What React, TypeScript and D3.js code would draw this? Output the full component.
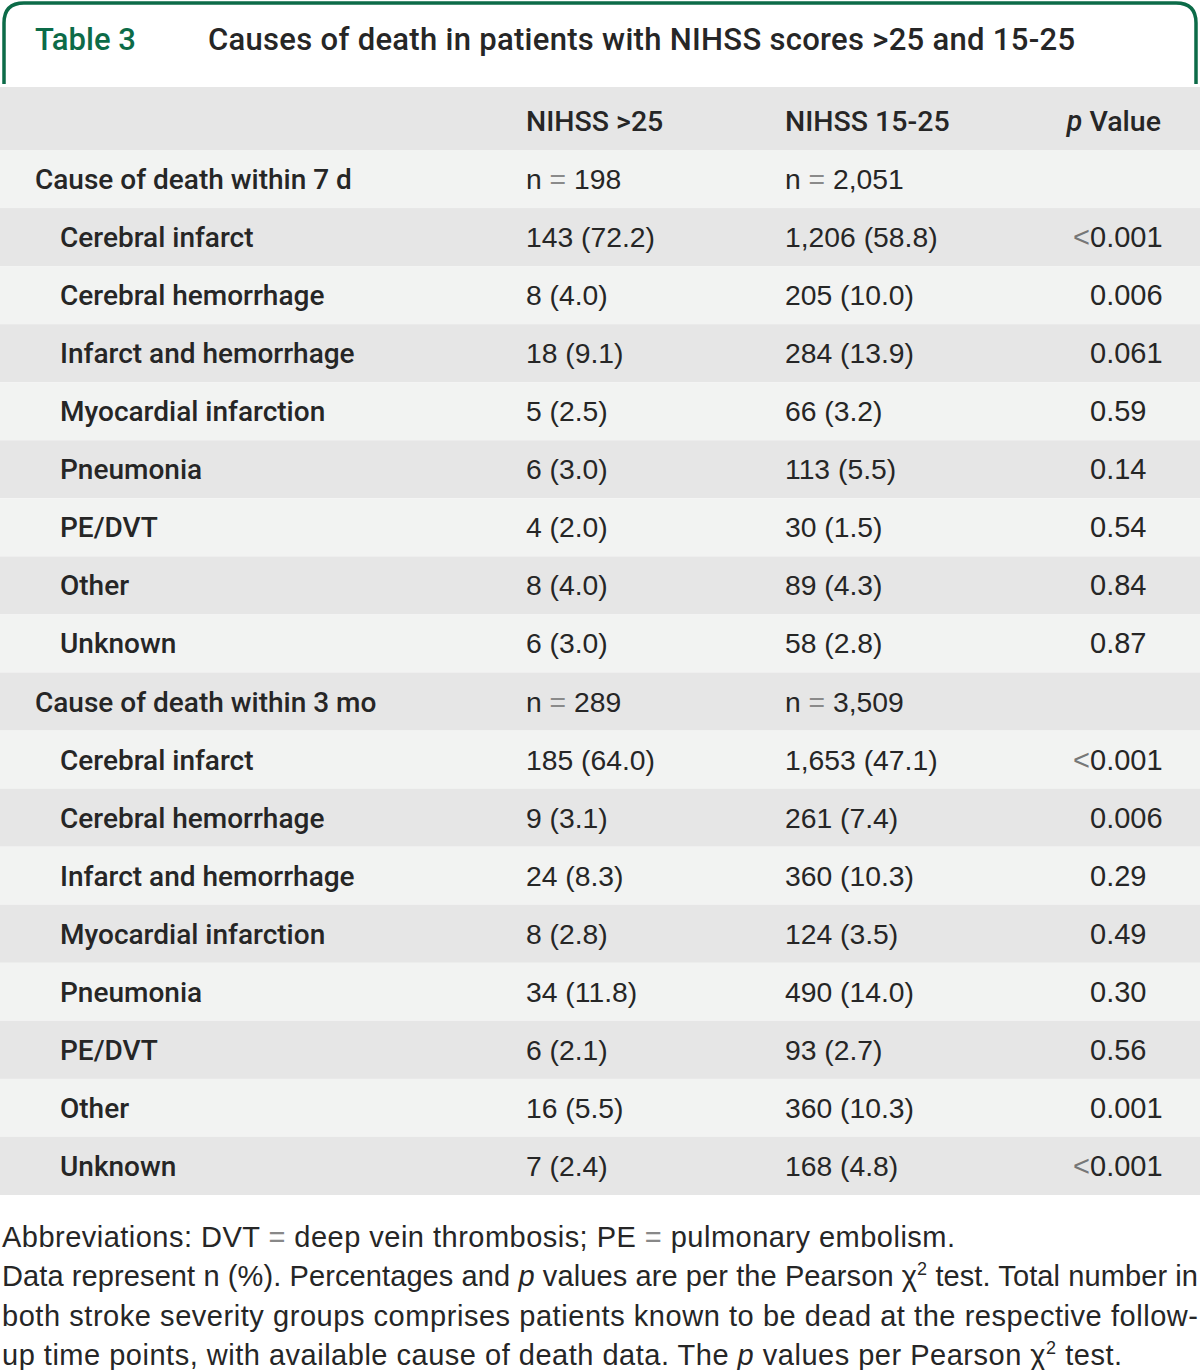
import React, { useEffect, useRef } from 'react';
import * as d3 from 'd3';

const columns = ['NIHSS >25', 'NIHSS 15-25'];
const sections = ['Cause of death within 7 d', 'Cause of death within 3 mo'];
const sectionN = [['198', '2,051'], ['289', '3,509']];
const causes = ['Cerebral infarct', 'Cerebral hemorrhage', 'Infarct and hemorrhage', 'Myocardial infarction', 'Pneumonia', 'PE/DVT', 'Other', 'Unknown'];

const high7d = ['143 (72.2)', '8 (4.0)', '18 (9.1)', '5 (2.5)', '6 (3.0)', '4 (2.0)', '8 (4.0)', '6 (3.0)'];
const mid7d = ['1,206 (58.8)', '205 (10.0)', '284 (13.9)', '66 (3.2)', '113 (5.5)', '30 (1.5)', '89 (4.3)', '58 (2.8)'];
const p7d = ['<0.001', '0.006', '0.061', '0.59', '0.14', '0.54', '0.84', '0.87'];

const high3m = ['185 (64.0)', '9 (3.1)', '24 (8.3)', '8 (2.8)', '34 (11.8)', '6 (2.1)', '16 (5.5)', '7 (2.4)'];
const mid3m = ['1,653 (47.1)', '261 (7.4)', '360 (10.3)', '124 (3.5)', '490 (14.0)', '93 (2.7)', '360 (10.3)', '168 (4.8)'];
const p3m = ['<0.001', '0.006', '0.29', '0.49', '0.30', '0.56', '0.001', '<0.001'];

const GREEN = '#0c6b48';
const INK = '#262626';
const LABEL_FONT = 'Roboto, "Liberation Sans", sans-serif';
const NUM_FONT = '"Liberation Sans", Arial, sans-serif';

export default function App() {
  const svgRef = useRef<SVGSVGElement>(null);
  const width = 1200;
  const height = 1370;

  useEffect(() => {
    const svg = d3.select(svgRef.current);
    svg.selectAll('*').remove();

    // build rows from the arrays
    type Row = { kind: 'section' | 'item'; label: string; a: string; b: string; p: string };
    const rows: Row[] = [];
    const blocks = [[high7d, mid7d, p7d], [high3m, mid3m, p3m]];
    sections.forEach((s, si) => {
      rows.push({ kind: 'section', label: s, a: 'n = ' + sectionN[si][0], b: 'n = ' + sectionN[si][1], p: '' });
      causes.forEach((c, i) => {
        rows.push({ kind: 'item', label: c, a: blocks[si][0][i], b: blocks[si][1][i], p: blocks[si][2][i] });
      });
    });

    const y = d3.scaleBand<number>()
      .domain(d3.range(rows.length))
      .range([150, 1195]);

    const colX = { label: 35, indent: 60, a: 526, b: 785, p: 1090 };

    // title frame with rounded top corners
    const r = 20;
    svg.append('path')
      .attr('d', `M4,84 L4,${3 + r} Q4,3 ${4 + r},3 L${1196 - r},3 Q1196,3 1196,${3 + r} L1196,84`)
      .attr('fill', 'none')
      .attr('stroke', GREEN)
      .attr('stroke-width', 3.5);

    svg.append('text')
      .attr('x', 35).attr('y', 50)
      .attr('font-family', LABEL_FONT).attr('font-weight', 500)
      .attr('font-size', 31).attr('fill', GREEN)
      .text('Table 3');

    svg.append('text')
      .attr('x', 208).attr('y', 50)
      .attr('font-family', LABEL_FONT).attr('font-weight', 500)
      .attr('font-size', 31).attr('fill', INK)
      .attr('textLength', 867).attr('lengthAdjust', 'spacing')
      .text('Causes of death in patients with NIHSS scores >25 and 15-25');

    // header row
    svg.append('rect')
      .attr('x', 0).attr('y', 87).attr('width', width).attr('height', 63)
      .attr('fill', '#e6e6e6');

    const header = svg.append('g')
      .attr('font-family', LABEL_FONT).attr('font-weight', 500)
      .attr('font-size', 28.5).attr('fill', INK);
    header.append('text').attr('x', colX.a).attr('y', 131).text(columns[0]);
    header.append('text').attr('x', colX.b).attr('y', 131).text(columns[1]);
    const pv = header.append('text').attr('x', 1161).attr('y', 131).attr('text-anchor', 'end');
    pv.append('tspan').attr('font-style', 'italic').text('p');
    pv.append('tspan').text(' Value');

    // body rows
    const rowG = svg.append('g')
      .selectAll('g')
      .data(rows)
      .enter()
      .append('g')
      .attr('transform', (d, i) => `translate(0, ${y(i)})`);

    rowG.append('rect')
      .attr('width', width)
      .attr('height', y.bandwidth())
      .attr('fill', (d, i) => (i % 2 === 0 ? '#f2f3f2' : '#e6e6e6'));

    const base = y.bandwidth() / 2 + 10;

    rowG.append('text')
      .attr('x', d => (d.kind === 'section' ? colX.label : colX.indent))
      .attr('y', base)
      .attr('font-family', LABEL_FONT).attr('font-weight', 500)
      .attr('font-size', 28).attr('fill', INK)
      .text(d => d.label);

    const numText = (sel: any, x: number, key: 'a' | 'b') => {
      const t = sel.append('text')
        .attr('x', x).attr('y', base)
        .attr('font-family', NUM_FONT).attr('font-size', 28.3).attr('fill', INK);
      t.each(function (this: SVGTextElement, d: Row) {
        const el = d3.select(this);
        const v = d[key];
        if (v.startsWith('n = ')) {
          el.append('tspan').text('n ');
          el.append('tspan').attr('fill', '#8a8a8a').text('=');
          el.append('tspan').text(' ' + v.slice(4));
        } else {
          el.text(v);
        }
      });
    };
    numText(rowG, colX.a, 'a');
    numText(rowG, colX.b, 'b');

    const pG = rowG.filter(d => d.p !== '');
    pG.append('text')
      .attr('x', colX.p).attr('y', base)
      .attr('font-family', NUM_FONT).attr('font-size', 29).attr('fill', INK)
      .text(d => d.p.replace('<', ''));
    pG.filter(d => d.p.startsWith('<'))
      .append('text')
      .attr('x', colX.p).attr('y', base)
      .attr('text-anchor', 'end')
      .attr('font-family', NUM_FONT).attr('font-size', 29).attr('fill', '#777')
      .text('<');

    // footnotes
    const foot = svg.append('g')
      .attr('font-family', NUM_FONT).attr('font-size', 29).attr('fill', INK);
    const l1 = foot.append('text').attr('x', 2).attr('y', 1247)
      .attr('textLength', 953).attr('lengthAdjust', 'spacing');
    l1.append('tspan').text('Abbreviations: DVT ');
    l1.append('tspan').attr('fill', '#888').text('=');
    l1.append('tspan').text(' deep vein thrombosis; PE ');
    l1.append('tspan').attr('fill', '#888').text('=');
    l1.append('tspan').text(' pulmonary embolism.');

    const l2 = foot.append('text').attr('x', 2).attr('y', 1286)
      .attr('textLength', 1196).attr('lengthAdjust', 'spacing');
    l2.append('tspan').text('Data represent n (%). Percentages and ');
    l2.append('tspan').attr('font-style', 'italic').text('p');
    l2.append('tspan').text(' values are per the Pearson χ');
    l2.append('tspan').attr('font-size', 18).attr('dy', -11).text('2');
    l2.append('tspan').attr('dy', 11).text(' test. Total number in');

    foot.append('text').attr('x', 2).attr('y', 1326)
      .attr('textLength', 1196).attr('lengthAdjust', 'spacing')
      .text('both stroke severity groups comprises patients known to be dead at the respective follow-');

    const l4 = foot.append('text').attr('x', 2).attr('y', 1365)
      .attr('textLength', 1120).attr('lengthAdjust', 'spacing');
    l4.append('tspan').text('up time points, with available cause of death data. The ');
    l4.append('tspan').attr('font-style', 'italic').text('p');
    l4.append('tspan').text(' values per Pearson χ');
    l4.append('tspan').attr('font-size', 18).attr('dy', -11).text('2');
    l4.append('tspan').attr('dy', 11).text(' test.');
  }, []);

  return (
    <svg
      ref={svgRef}
      width={width}
      height={height}
      style={{ position: 'absolute', left: 0, top: 0, background: '#fff' }}
    />
  );
}
